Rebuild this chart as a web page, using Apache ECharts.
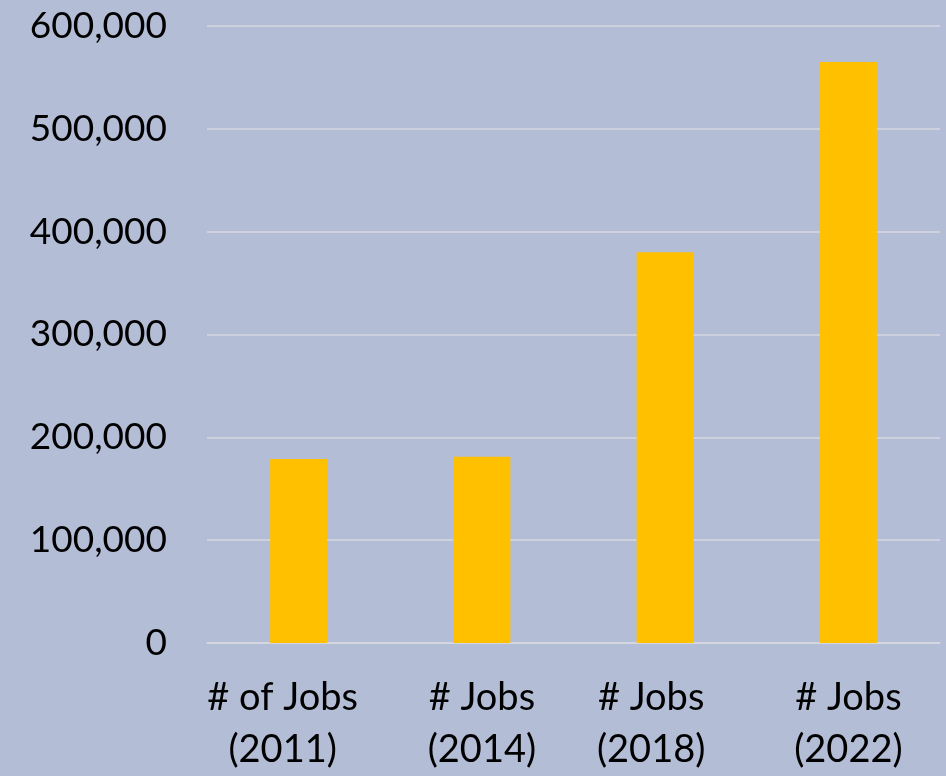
<!DOCTYPE html>
<html>
<head>
<meta charset="utf-8">
<script src="https://cdn.jsdelivr.net/npm/echarts@6/dist/echarts.min.js"></script>
<style>
  html, body { margin: 0; padding: 0; background: #b4bdd6; overflow: hidden; }
  #chart { position: absolute; left: 0; top: 0; width: 946px; height: 776px; }
</style>
</head>
<body>
<div id="chart"></div>
<script>
// Job counts by year
const categories = ['# of Jobs\n(2011)', '# Jobs\n(2014)', '# Jobs\n(2018)', '# Jobs\n(2022)'];
const jobs = [179000, 181000, 380000, 565000];
const yTicks = [0, 100000, 200000, 300000, 400000, 500000, 600000];

// horizontal nudges for the wrapped category labels (px of right padding)
const labelShift = [32, 0, 28, 0];

const chart = echarts.init(document.getElementById('chart'), null, { renderer: 'canvas' });

const fontFamily = 'Lato, Carlito, Calibri, "Open Sans", sans-serif';
const gridColor = '#d6d9e0';

chart.setOption({
  backgroundColor: '#b4bdd6',
  animation: false,
  grid: { left: 207, right: 6, top: 26, height: 623, containLabel: false },
  xAxis: {
    type: 'category',
    data: categories.map((c, i) => ({
      value: c,
      textStyle: { padding: [0, labelShift[i], 0, 0] }
    })),
    axisLine: { show: true, lineStyle: { color: gridColor, width: 1.5 } },
    axisTick: { show: false },
    axisLabel: {
      color: '#000',
      fontFamily: fontFamily,
      fontSize: 38,
      lineHeight: 52,
      margin: 29,
      interval: 0
    }
  },
  yAxis: {
    type: 'value',
    min: yTicks[0],
    max: yTicks[yTicks.length - 1],
    interval: yTicks[1] - yTicks[0],
    axisLine: { show: false },
    axisTick: { show: false },
    splitLine: { show: true, lineStyle: { color: gridColor, width: 1.5 } },
    axisLabel: {
      color: '#000',
      fontFamily: fontFamily,
      fontSize: 37,
      margin: 40,
      formatter: v => v.toLocaleString('en-US')
    }
  },
  series: [{
    type: 'bar',
    data: jobs,
    barWidth: 57,
    itemStyle: { color: '#ffc000' }
  }]
});
</script>
</body>
</html>
